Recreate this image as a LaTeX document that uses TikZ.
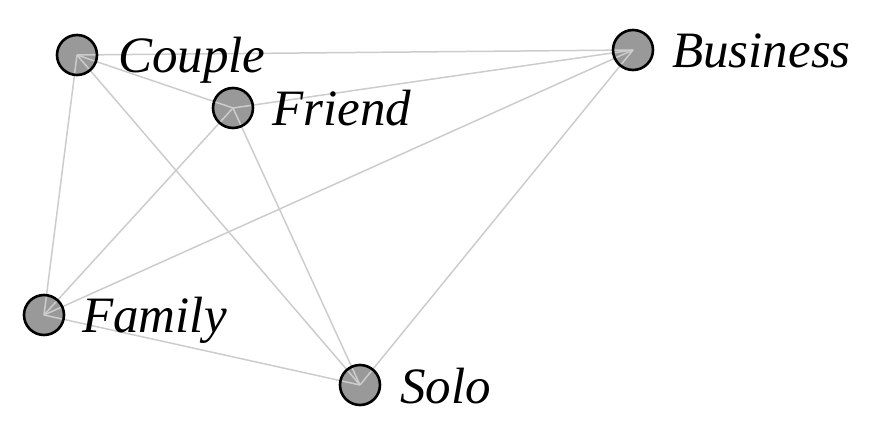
\documentclass[tikz,border=0pt]{standalone}
\usepackage{fontspec}
\setmainfont{Liberation Serif}
\begin{document}
\begin{tikzpicture}[x=1pt,y=-1pt,
  vfill/.style={circle,fill={rgb,255:red,153;green,153;blue,153},minimum size=40pt,inner sep=0pt},
  vborder/.style={circle,draw=black,line width=2.6pt,minimum size=40pt,inner sep=0pt},
  edge/.style={draw={rgb,255:red,204;green,204;blue,204},line width=1.5pt},
  lab/.style={anchor=base west,font=\fontsize{51}{51}\selectfont\itshape,inner sep=0pt}]
\path[use as bounding box] (0,0) rectangle (873,438);
% fills
\node[vfill] (couple) at (77,55) {};
\node[vfill] (friend) at (233,108) {};
\node[vfill] (business) at (633,50) {};
\node[vfill] (family) at (44,315) {};
\node[vfill] (solo) at (360,385) {};
% edges
\draw[edge] (couple.center) -- (business.center);
\draw[edge] (couple.center) -- (friend.center);
\draw[edge] (couple.center) -- (family.center);
\draw[edge] (couple.center) -- (solo.center);
\draw[edge] (friend.center) -- (business.center);
\draw[edge] (friend.center) -- (family.center);
\draw[edge] (friend.center) -- (solo.center);
\draw[edge] (business.center) -- (family.center);
\draw[edge] (business.center) -- (solo.center);
\draw[edge] (family.center) -- (solo.center);
% borders
\node[vborder] (coupleb) at (couple) {};
\node[vborder] (friendb) at (friend) {};
\node[vborder] (businessb) at (business) {};
\node[vborder] (familyb) at (family) {};
\node[vborder] (solob) at (solo) {};
% labels
\node[lab] (lcouple) at (118,73) {Couple};
\node[lab] (lfriend) at (272,126) {Friend};
\node[lab] (lbusiness) at (672,68) {Business};
\node[lab] (lfamily) at (82,333) {Family};
\node[lab] (lsolo) at (400,403) {Solo};
\end{tikzpicture}
\end{document}
